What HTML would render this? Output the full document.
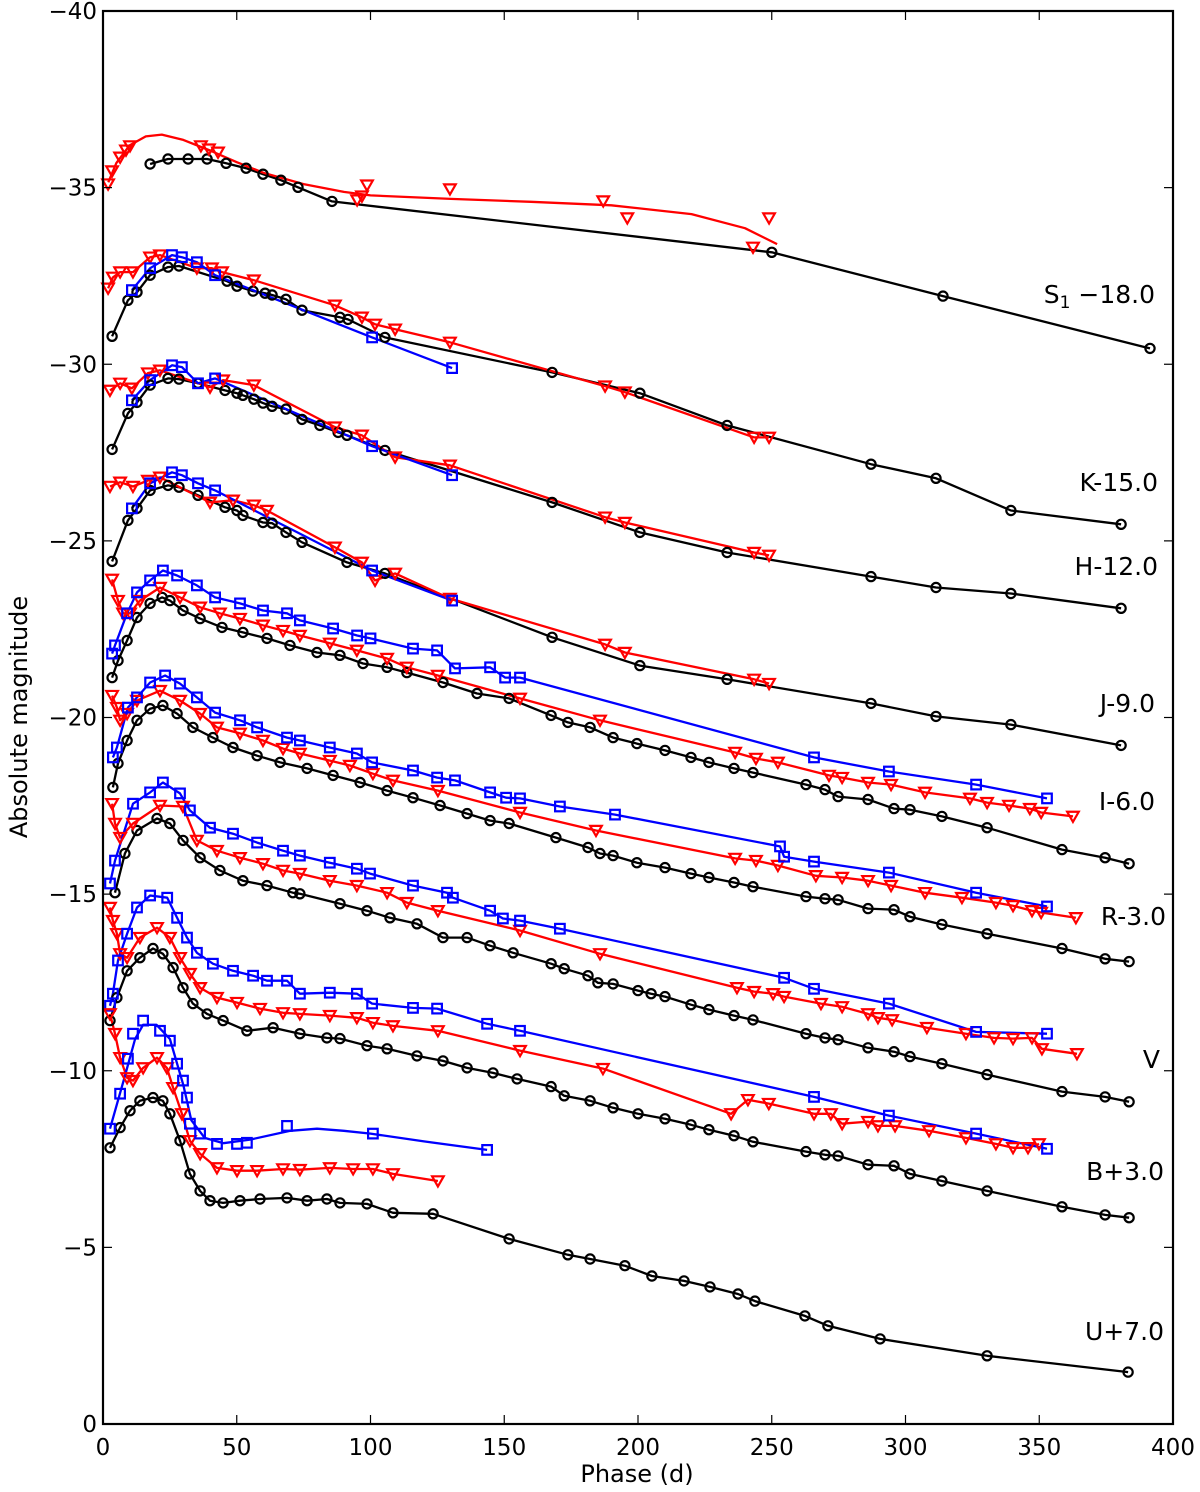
<!DOCTYPE html>
<html><head><meta charset="utf-8"><title>Light curves</title>
<style>
html,body{margin:0;padding:0;background:#fff;}
svg{display:block;font-family:"DejaVu Sans","Liberation Sans",sans-serif;}
</style></head>
<body>
<svg id="chart" width="1200" height="1492" viewBox="0 0 1200 1492" xmlns="http://www.w3.org/2000/svg">
<rect x="0" y="0" width="1200" height="1492" fill="#fff"/>
<g id="series-layer"></g>
<g id="axes-layer"></g>
<g id="labels-layer">
<text x="1155" y="303" font-size="25" text-anchor="end">S<tspan font-size="17" dy="5">1</tspan><tspan dy="-5"> −18.0</tspan></text>
<text x="1158" y="491" font-size="25" text-anchor="end">K-15.0</text>
<text x="1158" y="575" font-size="25" text-anchor="end">H-12.0</text>
<text x="1155" y="712" font-size="25" text-anchor="end">J-9.0</text>
<text x="1155" y="810" font-size="25" text-anchor="end">I-6.0</text>
<text x="1166" y="925" font-size="25" text-anchor="end">R-3.0</text>
<text x="1160" y="1068" font-size="25" text-anchor="end">V</text>
<text x="1164" y="1180" font-size="25" text-anchor="end">B+3.0</text>
<text x="1164" y="1340" font-size="25" text-anchor="end">U+7.0</text>
</g>
<text x="637" y="1482" font-size="24" text-anchor="middle">Phase (d)</text>
<text transform="translate(27,717) rotate(-90)" font-size="24" text-anchor="middle">Absolute magnitude</text>
</svg>
<script>
const xTicks = [0,50,100,150,200,250,300,350,400];
const yTicks = [0,-5,-10,-15,-20,-25,-30,-35,-40];

const S1_black_phase = [17.6,24.3,31.8,38.9,46,53.5,59.8,66.5,72.9,85.6,250,314,391.4];
const S1_black_mag = [-35.67,-35.81,-35.81,-35.81,-35.69,-35.55,-35.38,-35.21,-35.01,-34.61,-33.17,-31.93,-30.45];
const S1_red_phase = [1.9,3.4,6.4,8.6,10.1,36.6,39.6,43,95,96.8,98.7,129.7,187,196,243,249];
const S1_red_mag = [-35.10,-35.47,-35.86,-36.06,-36.18,-36.18,-36.09,-36.0,-34.65,-34.76,-35.07,-34.96,-34.62,-34.14,-33.31,-34.14];
const S1_redfit_phase = [2,5,10,16,22,30,40,50,60,75,90,100,130,160,190,220,240,252];
const S1_redfit_mag = [-35.15,-35.7,-36.2,-36.45,-36.5,-36.35,-36.05,-35.72,-35.42,-35.1,-34.88,-34.78,-34.68,-34.6,-34.5,-34.25,-33.85,-33.4];

const K_black_phase = [3.4,9.3,12.7,17.6,24.3,28.4,46.4,50.1,56.1,60.6,63.2,68.4,74.4,88.6,91.6,105.4,167.9,200.7,233.3,287.1,311.4,339.4,380.6];
const K_black_mag = [-30.79,-31.81,-32.04,-32.52,-32.75,-32.78,-32.35,-32.21,-32.07,-32.01,-31.96,-31.84,-31.53,-31.33,-31.27,-30.76,-29.77,-29.18,-28.27,-27.17,-26.77,-25.86,-25.47];
const K_red_phase = [1.9,3.7,6.4,11.2,17.6,21.3,35.1,40.7,44.5,56.4,86.7,96.8,101.7,109.2,129.7,187.7,195.1,243.4,249];
const K_red_mag = [-32.15,-32.46,-32.61,-32.61,-33.03,-33.09,-32.72,-32.72,-32.61,-32.38,-31.67,-31.33,-31.13,-30.99,-30.62,-29.38,-29.21,-27.93,-27.93];
const K_blue_phase = [10.8,17.6,25.8,29.5,35.1,41.9,100.6,130.5];
const K_blue_mag = [-32.10,-32.72,-33.09,-33.03,-32.89,-32.52,-30.76,-29.89];

const H_black_phase = [3.4,9.3,12.7,17.6,24.3,28.4,35.5,45.6,50.1,52.3,56.4,59.8,63.2,68.4,74.4,81.1,87.9,91.2,105.4,167.9,200.7,233.3,287.1,311.4,339.4,380.6];
const H_black_mag = [-27.59,-28.61,-28.92,-29.41,-29.60,-29.58,-29.46,-29.26,-29.18,-29.12,-29.01,-28.90,-28.81,-28.73,-28.44,-28.27,-28.07,-27.99,-27.56,-26.09,-25.24,-24.67,-23.99,-23.68,-23.51,-23.09];
const H_red_phase = [2.6,6.4,10.8,16.8,21.3,40,44.9,56.4,86.7,96.8,109.2,129.7,187.7,195.1,243.4,249];
const H_red_mag = [-29.26,-29.46,-29.32,-29.75,-29.83,-29.35,-29.55,-29.41,-28.22,-27.99,-27.37,-27.14,-25.67,-25.52,-24.67,-24.59];
const H_blue_phase = [10.8,17.6,25.8,29.5,35.5,41.9,100.6,130.5];
const H_blue_mag = [-28.98,-29.55,-29.97,-29.92,-29.46,-29.60,-27.68,-26.86];

const J_black_phase = [3.4,9.3,12.7,17.6,24.3,28.4,35.5,45.6,50.1,52.3,59.8,63.2,68.4,74.4,91.2,105.4,167.9,200.7,233.3,287.1,311.4,339.4,380.6];
const J_black_mag = [-24.42,-25.58,-25.92,-26.43,-26.57,-26.52,-26.29,-25.95,-25.86,-25.72,-25.52,-25.50,-25.24,-24.96,-24.39,-24.08,-22.27,-21.47,-21.08,-20.40,-20.03,-19.80,-19.21];
const J_red_phase = [2.6,6.4,11.2,16.8,21.3,40,48.6,56.4,61.3,86.7,96.8,101.7,109.2,129.7,187.7,195.1,243.4,249];
const J_red_mag = [-26.54,-26.66,-26.54,-26.71,-26.80,-26.09,-26.15,-26.01,-25.86,-24.82,-24.39,-23.88,-24.08,-23.37,-22.07,-21.84,-21.08,-20.96];
const J_blue_phase = [10.8,17.6,25.8,29.5,35.5,41.9,100.6,130.5];
const J_blue_mag = [-25.92,-26.63,-26.94,-26.86,-26.63,-26.43,-24.16,-23.31];

const I_black_phase = [3.4,5.6,9.0,12.7,17.6,22.1,25.0,29.9,36.3,44.5,52.3,61.3,69.9,80.0,88.6,97.2,106.2,113.6,127.1,139.8,151.8,167.5,173.8,182.1,190.7,199.6,210.1,219.8,226.5,235.9,243.0,262.8,269.9,274.8,286.0,295.7,301.7,313.6,330.5,358.5,374.6,383.6];
const I_black_mag = [-21.13,-21.61,-22.18,-22.83,-23.23,-23.40,-23.31,-23.03,-22.80,-22.55,-22.41,-22.24,-22.04,-21.84,-21.76,-21.53,-21.42,-21.27,-20.99,-20.68,-20.54,-20.06,-19.86,-19.72,-19.43,-19.26,-19.07,-18.87,-18.73,-18.56,-18.44,-18.10,-17.96,-17.76,-17.68,-17.42,-17.39,-17.20,-16.88,-16.26,-16.03,-15.86];
const I_red_phase = [3.4,5.6,7.5,10.1,13.8,21.3,28.8,36.3,43.7,51.2,59.8,67.3,73.6,84.8,94.9,106.2,113.6,125.2,155.9,185.8,236.3,244.1,252.3,271.4,276.3,286.0,294.6,307.3,324.1,330.5,338.7,346.5,350.7,362.6];
const I_red_mag = [-23.91,-23.31,-22.95,-22.95,-23.31,-23.68,-23.40,-23.12,-22.95,-22.80,-22.61,-22.46,-22.32,-22.10,-21.90,-21.67,-21.42,-21.19,-20.54,-19.92,-19.01,-18.84,-18.73,-18.36,-18.30,-18.16,-18.10,-17.88,-17.71,-17.59,-17.51,-17.42,-17.31,-17.20];
const I_blue_phase = [3.4,4.5,9.0,12.7,17.6,22.4,27.7,35.1,41.9,51.2,59.8,68.8,73.6,86,95,100,115.9,124.9,131.6,144.7,150.3,155.9,265.8,293.8,326.4,352.9];
const I_blue_mag = [-21.81,-22.04,-22.95,-23.54,-23.88,-24.16,-24.02,-23.74,-23.40,-23.23,-23.03,-22.95,-22.75,-22.52,-22.32,-22.24,-21.95,-21.90,-21.39,-21.42,-21.13,-21.13,-18.87,-18.47,-18.10,-17.71];

const R_black_phase = [3.7,5.6,9.0,12.7,17.6,22.4,27.7,33.6,41.1,48.6,57.6,66.2,76.3,86.0,96.1,106.2,115.9,126.0,136.1,144.7,151.8,169.3,181.3,185.8,190.7,199.6,210.1,219.8,226.5,235.9,243.0,262.8,269.9,274.8,286.0,295.7,301.7,313.6,330.5,358.5,374.6,383.6];
const R_black_mag = [-18.02,-18.70,-19.35,-19.92,-20.25,-20.34,-20.11,-19.72,-19.43,-19.15,-18.92,-18.73,-18.56,-18.36,-18.16,-17.93,-17.73,-17.51,-17.28,-17.08,-17.00,-16.60,-16.32,-16.15,-16.09,-15.89,-15.75,-15.58,-15.47,-15.33,-15.21,-14.93,-14.87,-14.84,-14.59,-14.56,-14.36,-14.14,-13.88,-13.46,-13.17,-13.09];
const R_red_phase = [3.4,5.2,6.4,9.0,12.7,21.3,28.8,36.3,42.6,51.2,59.8,67.3,73.6,84.8,92.3,100.9,108.4,125.2,155.9,184.3,236.3,244.1,252.3,266.5,276.3,286.0,294.6,307.3,321.1,333.8,340.2,347.3,350.7,363.7];
const R_red_mag = [-20.62,-20.28,-19.92,-20.11,-20.48,-20.76,-20.48,-20.11,-19.72,-19.55,-19.35,-19.12,-18.98,-18.78,-18.64,-18.41,-18.22,-17.93,-17.31,-16.80,-16.01,-15.95,-15.81,-15.52,-15.47,-15.38,-15.24,-15.04,-14.90,-14.76,-14.67,-14.53,-14.48,-14.33];
const R_blue_phase = [3.7,5.2,9.3,12.7,17.6,23.2,28.8,35.1,41.9,51.2,57.6,68.8,73.6,84.8,94.9,100.6,115.9,124.9,131.6,144.7,150.7,155.9,170.8,191.4,253.1,254.6,265.8,293.8,326.4,352.9];
const R_blue_mag = [-18.87,-19.15,-20.28,-20.57,-20.99,-21.19,-20.96,-20.57,-20.14,-19.92,-19.72,-19.43,-19.35,-19.15,-18.98,-18.73,-18.50,-18.30,-18.22,-17.88,-17.73,-17.71,-17.48,-17.25,-16.35,-16.06,-15.92,-15.61,-15.04,-14.65];

const V_black_phase = [4.5,8.2,12.7,20.2,25.0,29.9,36.3,43.7,52.3,61.3,71.0,73.6,88.6,98.7,107.3,117.4,127.1,136.1,144.7,153.3,167.5,172.4,181.3,185.0,190.7,200.0,204.9,210.1,219.8,226.5,235.9,243.0,262.8,269.9,274.8,286.0,295.7,301.7,313.6,330.5,358.5,374.6,383.6];
const V_black_mag = [-15.04,-16.15,-16.80,-17.14,-17.00,-16.52,-16.03,-15.67,-15.38,-15.24,-15.04,-15.01,-14.73,-14.53,-14.33,-14.16,-13.77,-13.77,-13.54,-13.34,-13.03,-12.89,-12.69,-12.49,-12.46,-12.27,-12.18,-12.10,-11.87,-11.73,-11.56,-11.44,-11.05,-10.93,-10.88,-10.65,-10.54,-10.40,-10.20,-9.89,-9.41,-9.26,-9.12];
const V_red_phase = [3.4,4.5,6.4,11.2,21.3,29.9,35.1,42.6,51.2,59.8,67.3,73.6,84.8,94.9,106.2,113.6,125.2,155.9,185.8,237.0,243.4,250.5,254.6,268.4,276.3,286.0,289.7,295.0,308.0,322.6,333.1,340.2,347.3,351.0,364.1];
const V_red_mag = [-17.56,-17.00,-16.60,-17.00,-17.51,-17.48,-16.52,-16.23,-16.03,-15.86,-15.67,-15.58,-15.38,-15.24,-15.04,-14.76,-14.53,-13.97,-13.31,-12.35,-12.24,-12.18,-12.10,-11.90,-11.81,-11.61,-11.50,-11.44,-11.22,-11.05,-10.93,-10.91,-10.93,-10.62,-10.48];
const V_blue_phase = [2.6,4.5,11.2,17.6,22.4,28.8,32.5,40,48.6,57.6,67.3,73.6,84.8,94.9,99.8,115.9,128.6,130.8,144.7,149.5,155.9,170.8,254.6,265.8,293.8,326.4,352.9];
const V_blue_mag = [-15.30,-15.95,-17.56,-17.88,-18.16,-17.85,-17.37,-16.88,-16.71,-16.46,-16.23,-16.09,-15.89,-15.72,-15.58,-15.24,-15.04,-14.90,-14.53,-14.31,-14.25,-14.02,-12.63,-12.32,-11.90,-11.10,-11.05];

const B_black_phase = [2.6,5.2,9.0,13.8,18.7,22.4,26.2,29.9,33.6,38.9,44.9,53.8,63.6,73.6,83.7,88.6,98.7,106.2,117.4,127.1,136.1,145.8,154.8,167.5,172.4,182.1,190.7,200.0,210.1,219.8,226.5,235.9,243.0,262.8,269.9,274.8,286.0,295.7,301.7,313.6,330.5,358.5,374.6,383.6];
const B_black_mag = [-11.42,-12.07,-12.83,-13.20,-13.46,-13.31,-12.92,-12.35,-11.90,-11.61,-11.42,-11.13,-11.22,-11.05,-10.93,-10.91,-10.71,-10.62,-10.42,-10.28,-10.08,-9.94,-9.77,-9.55,-9.29,-9.15,-8.95,-8.78,-8.64,-8.47,-8.33,-8.16,-7.99,-7.71,-7.62,-7.59,-7.34,-7.31,-7.08,-6.88,-6.60,-6.15,-5.92,-5.84];
const B_red_phase = [2.6,3.7,5.2,6.4,9.0,13.8,20.2,25.0,28.8,32.5,36.3,42.6,50.1,58.7,67.3,73.6,84.8,94.9,100.9,108.4,125.2,155.9,186.9,234.8,241.1,248.9,265.8,272.1,276.3,286.0,289.7,296.1,308.8,322.6,333.8,340.2,345.8,349.9];
const B_red_mag = [-14.62,-14.25,-13.88,-13.31,-13.20,-13.77,-14.05,-13.77,-13.20,-12.75,-12.35,-12.07,-11.93,-11.76,-11.64,-11.61,-11.56,-11.50,-11.36,-11.27,-11.13,-10.57,-10.06,-8.78,-9.18,-9.07,-8.78,-8.78,-8.50,-8.56,-8.44,-8.44,-8.30,-8.10,-7.93,-7.82,-7.82,-7.93];
const B_blue_phase = [2.6,3.7,5.6,9.0,12.7,17.6,24.0,27.7,31.4,35.1,41.1,48.6,56.1,61.3,68.8,73.6,84.8,94.9,100.6,115.9,124.9,143.6,155.9,265.8,293.8,326.4,352.9];
const B_blue_mag = [-11.84,-12.18,-13.12,-13.88,-14.62,-14.96,-14.90,-14.33,-13.77,-13.34,-13.03,-12.83,-12.69,-12.55,-12.55,-12.18,-12.21,-12.18,-11.90,-11.78,-11.76,-11.33,-11.13,-9.26,-8.73,-8.22,-7.79];

const U_black_phase = [2.6,6.4,10.1,13.8,18.7,22.4,25.0,28.8,32.5,36.3,40,44.9,51.2,58.7,68.8,76.3,83.7,88.6,98.7,108.4,123.4,151.8,173.8,182.1,195.1,205.2,217.2,226.9,237.4,243.7,262.4,271.0,290.5,330.5,383.2];
const U_black_mag = [-7.82,-8.39,-8.87,-9.15,-9.24,-9.15,-8.78,-8.02,-7.08,-6.60,-6.32,-6.26,-6.32,-6.37,-6.40,-6.32,-6.37,-6.26,-6.23,-5.98,-5.95,-5.24,-4.79,-4.67,-4.48,-4.19,-4.05,-3.88,-3.68,-3.48,-3.06,-2.78,-2.41,-1.93,-1.47];
const U_red_phase = [2.6,4.5,6.4,9.0,11.2,15.0,20.2,23.9,26.2,29.5,32.5,36.3,42.6,50.1,57.6,67.3,73.6,84.8,93.5,100.9,108.4,125.2];
const U_red_mag = [-11.61,-11.05,-10.37,-9.80,-9.72,-10.08,-10.37,-10.08,-9.52,-8.78,-8.02,-7.65,-7.25,-7.17,-7.17,-7.22,-7.20,-7.25,-7.22,-7.22,-7.08,-6.88];
const U_blue_phase = [2.6,6.4,9.3,11.2,15.0,21.3,25.0,27.7,29.9,31.4,32.5,36.3,42.6,50.1,53.8,68.8,100.9,143.6];
const U_blue_mag = [-8.36,-9.35,-10.34,-11.05,-11.42,-11.13,-10.85,-10.20,-9.72,-9.24,-8.50,-8.22,-7.93,-7.93,-7.96,-8.44,-8.22,-7.76];
const U_bluefit_phase = [2.6,8,12,15,20,25,30,33,38,45,55,70,80,90,100,120,143.6];
const U_bluefit_mag = [-8.36,-9.8,-10.9,-11.3,-11.3,-10.9,-9.6,-8.6,-8.1,-7.95,-8.05,-8.3,-8.36,-8.3,-8.22,-8.0,-7.76];

const X0 = 103, X1 = 1173, Y0 = 11, Y1 = 1424;
function xs(p){ return X0 + p * (X1 - X0) / 400; }
function ys(m){ return Y0 + (m + 40) * (Y1 - Y0) / 40; }

const NS = "http://www.w3.org/2000/svg";
const seriesLayer = document.getElementById('series-layer');
const axesLayer = document.getElementById('axes-layer');
const COLORS = {black:"#000000", red:"#ff0000", blue:"#0000ff"};

function mk(tag, attrs, parent){
  const el = document.createElementNS(NS, tag);
  for (const k in attrs) el.setAttribute(k, attrs[k]);
  parent.appendChild(el);
  return el;
}

function drawLine(ph, mg, color, name){
  const idx = ph.map((_, i) => i).sort((a, b) => ph[a] - ph[b]);
  const pts = idx.map(i => xs(ph[i]).toFixed(1) + "," + ys(mg[i]).toFixed(1)).join(" ");
  const pl = mk('polyline', {points: pts, fill: 'none', stroke: COLORS[color], 'stroke-width': 2.3, 'stroke-linejoin': 'round'}, seriesLayer);
  
  
}

function drawMarkers(ph, mg, color, name){
  const g = mk('g', {}, seriesLayer);
  
  
  for (let i = 0; i < ph.length; i++){
    const x = xs(ph[i]), y = ys(mg[i]);
    let m;
    if (color === 'black'){
      m = mk('circle', {cx: x.toFixed(1), cy: y.toFixed(1), r: 4.6, fill: 'none', stroke: '#000', 'stroke-width': 2.2}, g);
    } else if (color === 'red'){
      const s = 5.8;
      m = mk('polygon', {points: (x-s)+","+(y-s*0.8)+" "+(x+s)+","+(y-s*0.8)+" "+x+","+(y+s*0.95), fill: 'none', stroke: '#f00', 'stroke-width': 2.2}, g);
    } else {
      m = mk('rect', {x: (x-4.8).toFixed(1), y: (y-4.8).toFixed(1), width: 9.6, height: 9.6, fill: 'none', stroke: '#00f', 'stroke-width': 2.2}, g);
    }
    
    
  }
}

const bands = [
  ['s1', S1_black_phase, S1_black_mag, 'black', null, null],
  ['s1', S1_red_phase, S1_red_mag, 'red', S1_redfit_phase, S1_redfit_mag],
  ['k', K_black_phase, K_black_mag, 'black', null, null],
  ['k', K_red_phase, K_red_mag, 'red', null, null],
  ['k', K_blue_phase, K_blue_mag, 'blue', null, null],
  ['h', H_black_phase, H_black_mag, 'black', null, null],
  ['h', H_red_phase, H_red_mag, 'red', null, null],
  ['h', H_blue_phase, H_blue_mag, 'blue', null, null],
  ['j', J_black_phase, J_black_mag, 'black', null, null],
  ['j', J_red_phase, J_red_mag, 'red', null, null],
  ['j', J_blue_phase, J_blue_mag, 'blue', null, null],
  ['i', I_black_phase, I_black_mag, 'black', null, null],
  ['i', I_red_phase, I_red_mag, 'red', null, null],
  ['i', I_blue_phase, I_blue_mag, 'blue', null, null],
  ['r', R_black_phase, R_black_mag, 'black', null, null],
  ['r', R_red_phase, R_red_mag, 'red', null, null],
  ['r', R_blue_phase, R_blue_mag, 'blue', null, null],
  ['v', V_black_phase, V_black_mag, 'black', null, null],
  ['v', V_red_phase, V_red_mag, 'red', null, null],
  ['v', V_blue_phase, V_blue_mag, 'blue', null, null],
  ['b', B_black_phase, B_black_mag, 'black', null, null],
  ['b', B_red_phase, B_red_mag, 'red', null, null],
  ['b', B_blue_phase, B_blue_mag, 'blue', null, null],
  ['u', U_black_phase, U_black_mag, 'black', null, null],
  ['u', U_red_phase, U_red_mag, 'red', null, null],
  ['u', U_blue_phase, U_blue_mag, 'blue', U_bluefit_phase, U_bluefit_mag]
];

for (const b of bands){
  const nm = b[0] + '-' + b[3];
  if (b[4]) drawLine(b[4], b[5], b[3], nm + '-fit-line');
  else drawLine(b[1], b[2], b[3], nm + '-line');
}
for (const b of bands){
  drawMarkers(b[1], b[2], b[3], b[0] + '-' + b[3] + '-markers');
}

const frame = mk('rect', {x: X0, y: Y0, width: X1 - X0, height: Y1 - Y0, fill: 'none', stroke: '#000', 'stroke-width': 2.2}, axesLayer);



for (const t of xTicks){
  const x = xs(t);
  const t1 = mk('line', {x1: x, y1: Y1, x2: x, y2: Y1 - 9, stroke: '#000', 'stroke-width': 1.2}, axesLayer);
  
  
  const t2 = mk('line', {x1: x, y1: Y0, x2: x, y2: Y0 + 9, stroke: '#000', 'stroke-width': 1.2}, axesLayer);
  
  
  const lb = mk('text', {x: x, y: Y1 + 31, 'font-size': 23, 'text-anchor': 'middle'}, axesLayer);
  lb.textContent = String(t);
  
  
}
for (const t of yTicks){
  const y = ys(t);
  const t1 = mk('line', {x1: X0, y1: y, x2: X0 + 9, y2: y, stroke: '#000', 'stroke-width': 1.2}, axesLayer);
  
  
  const t2 = mk('line', {x1: X1, y1: y, x2: X1 - 9, y2: y, stroke: '#000', 'stroke-width': 1.2}, axesLayer);
  
  
  const lb = mk('text', {x: X0 - 6, y: y + 8, 'font-size': 23, 'text-anchor': 'end'}, axesLayer);
  lb.textContent = t === 0 ? '0' : '\u2212' + Math.abs(t);
  
  
}
</script>
</body></html>
